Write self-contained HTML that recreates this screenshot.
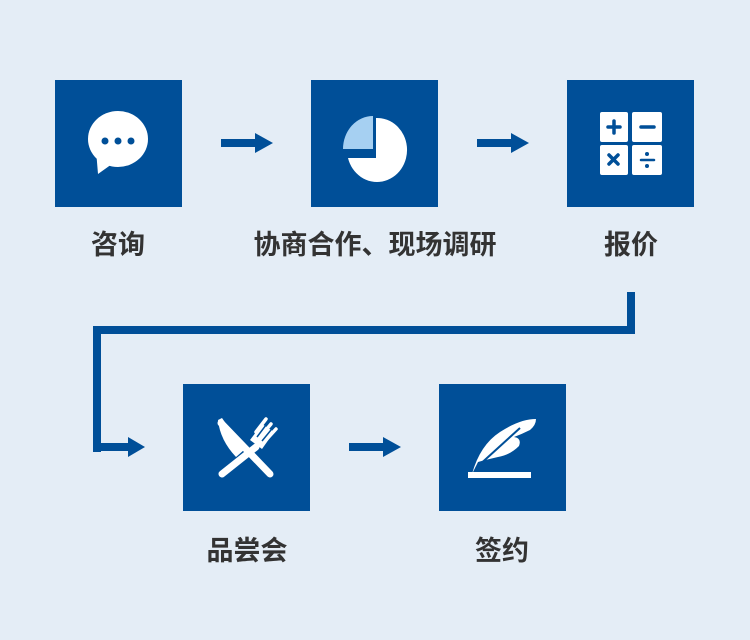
<!DOCTYPE html>
<html><head><meta charset="utf-8"><style>
body{margin:0;width:750px;height:640px;background:#e4edf6;position:relative;overflow:hidden;font-family:"Liberation Sans","Noto Sans CJK SC",sans-serif}
.b{position:absolute;width:127px;height:127px;background:#004f98}
.t{position:absolute;font-size:27px;font-weight:bold;color:#333;text-align:center;width:300px;line-height:30px}
svg{position:absolute;left:0;top:0}
</style></head><body>
<div class="b" style="left:55px;top:80px"></div>
<div class="b" style="left:311px;top:80px"></div>
<div class="b" style="left:567px;top:80px"></div>
<div class="b" style="left:183px;top:384px"></div>
<div class="b" style="left:439px;top:384px"></div>
<svg width="750" height="640">
<g fill="#004f98">
<rect x="221" y="139" width="35" height="8"/><polygon points="255,133 273,143 255,153"/>
<rect x="477" y="139" width="35" height="8"/><polygon points="511,133 529,143 511,153"/>
<rect x="349" y="443" width="35" height="8"/><polygon points="383,437 401,447 383,457"/>
<rect x="627" y="292" width="8" height="42"/>
<rect x="93" y="326" width="542" height="8"/>
<rect x="93" y="326" width="8" height="126"/>
<rect x="93" y="443" width="36" height="8"/><polygon points="128,437 145,447 128,457"/>
</g>
<g fill="#fff">
<ellipse cx="118" cy="139" rx="30" ry="28"/>
<polygon points="96,150 98,174 112,164"/>
</g>
<g fill="#004f98"><circle cx="105" cy="141" r="3.5"/><circle cx="118" cy="141" r="3.5"/><circle cx="131" cy="141" r="3.5"/></g>
<path d="M376,120 A30,32 0 1 1 348,160 L376,160 Z" fill="#fff" transform="translate(0,-2)"/>
<path d="M373,116 L373,149 L343,149 A30,33 0 0 1 373,116 Z" fill="#a6d0f2"/>
<g fill="#fff">
<rect x="600" y="112" width="28" height="30" rx="2"/><rect x="632" y="112" width="30" height="30" rx="2"/>
<rect x="600" y="145" width="28" height="30" rx="2"/><rect x="632" y="145" width="30" height="30" rx="2"/>
</g>
<g stroke="#004f98" stroke-width="3.5" stroke-linecap="round">
<line x1="608" y1="127" x2="620" y2="127"/><line x1="614" y1="121" x2="614" y2="133"/>
<line x1="641" y1="127" x2="654" y2="127"/>
<line x1="609" y1="155" x2="618" y2="164"/><line x1="618" y1="155" x2="609" y2="164"/>
<line x1="641" y1="160" x2="654" y2="160" stroke-width="2.5"/>
</g>
<g fill="#004f98"><circle cx="647" cy="154" r="2"/><circle cx="647" cy="166" r="2"/></g>
<g stroke="#fff" stroke-width="7" stroke-linecap="round" fill="none">
<line x1="221" y1="423" x2="270" y2="474"/>
<line x1="256" y1="447" x2="222" y2="474"/>
</g>
<path d="M218,420 L222,418 L244,450 L236,457 Q220,440 218,420Z" fill="#fff"/>
<path d="M250,440 L262,424 L274,432 L262,449 Z" fill="#fff"/>
<g stroke="#fff" stroke-width="3.5" stroke-linecap="round"><line x1="256" y1="432" x2="266" y2="419"/><line x1="261" y1="436" x2="271" y2="424"/><line x1="266" y1="440" x2="276" y2="429"/></g>
<g stroke="#004f98" stroke-width="1.5"><line x1="257" y1="437" x2="266" y2="425"/><line x1="262" y1="441" x2="271" y2="430"/></g>
<path d="M472,474 Q480,445 500,432 Q520,419 536,419 Q536,425 530,430 Q522,434 514,437 Q522,438 519,446 Q510,455 498,457 Q485,460 478,462 Z" fill="#fff"/>
<line x1="476" y1="468" x2="520" y2="428" stroke="#004f98" stroke-width="2"/>
<rect x="468" y="472" width="63" height="6" fill="#fff"/>
</svg>
<div class="t" style="left:-32px;top:230px">咨询</div>
<div class="t" style="left:225px;top:230px">协商合作、现场调研</div>
<div class="t" style="left:481px;top:230px">报价</div>
<div class="t" style="left:97px;top:536px">品尝会</div>
<div class="t" style="left:352px;top:536px">签约</div>
</body></html>
